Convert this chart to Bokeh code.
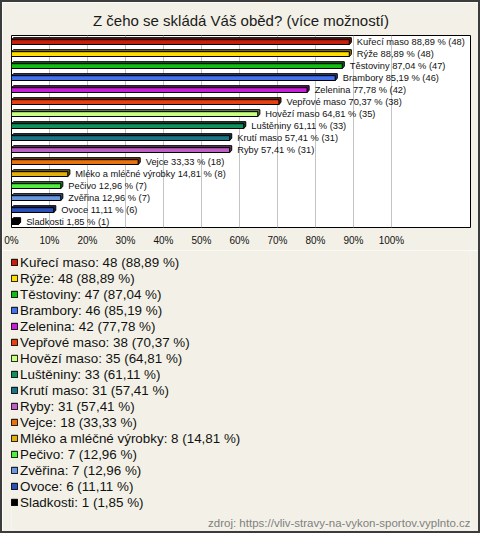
from bokeh.plotting import figure
from bokeh.layouts import column
from bokeh.models import (ColumnDataSource, Range1d, FixedTicker, PrintfTickFormatter,
                          Legend, LegendItem, Label)
from bokeh.core.properties import value
from bokeh.embed import file_html
from bokeh.resources import INLINE

title_text = "Z čeho se skládá Váš oběd? (více možností)"
source_text = "zdroj: https://vliv-stravy-na-vykon-sportov.vyplnto.cz"

categories = ["Kuřecí maso", "Rýže", "Těstoviny", "Brambory", "Zelenina", "Vepřové maso",
              "Hovězí maso", "Luštěniny", "Krutí maso", "Ryby", "Vejce",
              "Mléko a mléčné výrobky", "Pečivo", "Zvěřina", "Ovoce", "Sladkosti"]
counts = [48, 48, 47, 46, 42, 38, 35, 33, 31, 31, 18, 8, 7, 7, 6, 1]
percents = [88.89, 88.89, 87.04, 85.19, 77.78, 70.37, 64.81, 61.11, 57.41, 57.41,
            33.33, 14.81, 12.96, 12.96, 11.11, 1.85]
colors = ["#c8200c", "#ffdd00", "#14bb14", "#4472ec", "#c81ed8", "#e84010",
          "#c8ff82", "#10905c", "#1a7486", "#c060c4", "#e8720e",
          "#e2b00c", "#50ee40", "#6a98e0", "#2850b8", "#000000"]
tick_values = [0, 10, 20, 30, 40, 50, 60, 70, 80, 90, 100]

FONT = "Liberation Sans"
BG = "#f3f1e7"


def darker(c, f=0.55):
    r, g, b = int(c[1:3], 16), int(c[3:5], 16), int(c[5:7], 16)
    return "#%02x%02x%02x" % (int(r * f), int(g * f), int(b * f))


def fmt(v):
    return ("%.2f" % v).replace(".", ",")


n = len(categories)
centers = [i + 0.55 for i in range(n)]
half = 0.2
dx, dy = 0.55, 0.17

src = ColumnDataSource(dict(
    cat=categories,
    val=percents,
    left=[0] * n,
    top=[c - half for c in centers],
    bottom=[c + half for c in centers],
    color=colors,
    dark=[darker(c) for c in colors],
    lx=[v + 2.0 for v in percents],
    ly=[c - 0.03 for c in centers],
    label=["%s %s %% (%d)" % (c, fmt(p), k) for c, p, k in zip(categories, percents, counts)],
    xs=[[0, dx, v + dx, v + dx, v, v] for v in percents],
    ys=[[c - half, c - half - dy, c - half - dy, c + half - dy, c + half, c - half]
        for c in centers],
))

W = 476
H1, H2 = 248, 281

# ---- bar chart ----
p = figure(width=W, height=H1, output_backend="svg", toolbar_location=None,
           x_range=Range1d(0, 120.8), y_range=Range1d(n, 0),
           min_border_left=9, min_border_right=8, min_border_top=33, min_border_bottom=23)
p.border_fill_color = BG
p.background_fill_color = "#ffffff"
p.outline_line_color = "#000000"
p.outline_line_width = 1

p.title.text = title_text
p.title.align = "center"
p.title.text_font = FONT
p.title.text_font_size = "15px"
p.title.text_font_style = "normal"
p.title.text_color = "#1a1a1a"
p.title.standoff = 13

p.yaxis.visible = False
p.ygrid.visible = False
p.xaxis.ticker = FixedTicker(ticks=tick_values)
p.xaxis.formatter = PrintfTickFormatter(format="%d%%")
p.xaxis.axis_line_color = None
p.xaxis.major_tick_line_color = None
p.xaxis.minor_tick_line_color = None
p.xaxis.major_tick_out = 0
p.xaxis.major_tick_in = 0
p.xaxis.minor_tick_out = 0
p.xaxis.major_label_standoff = 7
p.xaxis.major_label_text_font = FONT
p.xaxis.major_label_text_font_size = "10px"
p.xaxis.major_label_text_color = "#111111"
p.xgrid.ticker = FixedTicker(ticks=tick_values)
p.xgrid.grid_line_color = "#c4c4c4"
p.xgrid.grid_line_width = 1

p.patches("xs", "ys", source=src, fill_color="dark", line_color="#000000", line_width=1)
p.quad(left="left", right="val", top="top", bottom="bottom", source=src,
       fill_color="color", line_color="#000000", line_width=1)
p.text("lx", "ly", text="label", source=src, text_font=value(FONT),
       text_font_size="9.3px", text_baseline="middle", text_align="left", text_color="#111111")

# ---- legend panel ----
q = figure(width=W, height=H2, output_backend="svg", toolbar_location=None,
           x_range=Range1d(-20, -19), y_range=Range1d(0, 1),
           min_border_left=0, min_border_right=0, min_border_top=0, min_border_bottom=0)
q.axis.visible = False
q.grid.visible = False
q.outline_line_color = None
q.border_fill_color = BG
q.background_fill_color = BG
swatch = q.quad(left="left", right="val", top="top", bottom="bottom", source=src,
                fill_color="color", line_color="#000000", line_width=1)

items = [LegendItem(label="%s: %d (%s %%)" % (c, k, fmt(v)), renderers=[swatch], index=i)
         for i, (c, k, v) in enumerate(zip(categories, counts, percents))]
legend = Legend(items=items, location=(-1, 21), orientation="vertical")
legend.label_text_font = FONT
legend.label_text_font_size = "13.4px"
legend.label_text_color = "#111111"
legend.glyph_width = 8
legend.glyph_height = 8
legend.label_standoff = 2
legend.label_height = 16
legend.spacing = 0
legend.padding = 0
legend.margin = 0
legend.border_line_color = None
legend.background_fill_alpha = 0
q.add_layout(legend)

q.add_layout(Label(x=459, y=9, x_units="screen", y_units="screen", text=source_text,
                   text_align="right", text_baseline="middle", text_font=FONT,
                   text_font_size="11.5px", text_color="#808080"))

page = column(p, q, spacing=0)
page.styles = {"border": "2px solid #3c3c3c"}

open("out.html", "w").write(file_html(page, INLINE))
